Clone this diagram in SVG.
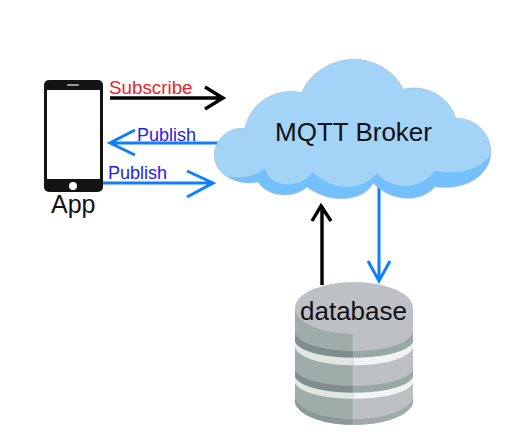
<svg xmlns="http://www.w3.org/2000/svg" width="506" height="436" viewBox="0 0 506 436">
<style>
text{font-family:"Liberation Sans",Arial,sans-serif}
.blk{fill:none;stroke:#000;stroke-width:3.4;stroke-linejoin:miter}
.blu{fill:none;stroke:#0f7ffb;stroke-width:3;stroke-linejoin:miter}
.pub{font-size:18px;fill:#2323ee}
.lbl{font-size:26px;fill:#111}
</style>
<defs>
<clipPath id="lh"><rect x="290" y="275" width="63.5" height="160"/></clipPath>
<clipPath id="rh"><rect x="353.5" y="275" width="65" height="160"/></clipPath>
<path id="body" d="M295,308 V403 C305,432 403,432 413,403 V308 Z"/>
<path id="s1" d="M295,333 C305,357 403,357 413,333 V342 C403,363 305,363 295,342 Z"/>
<path id="s2" d="M295,342 C305,363 403,363 413,342 V348 C403,371 305,371 295,348 Z"/>
<path id="s3" d="M295,370 C305,391 403,391 413,370 V377 C403,398 305,398 295,377 Z"/>
<path id="s4" d="M295,377 C305,398 403,398 413,377 V383 C403,404 305,404 295,383 Z"/>
<path id="s5" d="M295,398 C305,426 403,426 413,398 V403 C403,432 305,432 295,403 Z"/>
</defs>
<rect width="506" height="436" fill="#fff"/>
<g id="phone">
<rect x="44" y="80" width="59" height="112" rx="5" fill="#141414"/>
<rect x="47" y="90" width="53" height="89" fill="#fff"/>
<rect x="67" y="84" width="12" height="2" rx="1" fill="#9a9a9a"/>
<circle cx="73" cy="186" r="4" fill="#fff"/>
<text x="51" y="213" font-size="25" fill="#111">App</text>
</g>
<g id="connectors">
<path class="blk" d="M110,98 H222 M205,87 L223,98 L205,109"/>
<path class="blu" d="M218,143 H111 M135,130 L110,143 L135,155"/>
<path class="blu" d="M103,183 H212 M187,171 L213,183 L187,197"/>
<path class="blk" d="M322,285 V206 M312,221 L321,206 L331,221"/>
<path class="blu" d="M379,185 V280 M368,261 L379,281 L390,261"/>
</g>
<g id="broker">
<g transform="translate(205 50) scale(.3333)">
<path fill="#73c0fc" stroke="#b5b9bb" stroke-width="1.5" d="M120,235 C135,160 210,110 290,128 C320,60 390,28 445,28 C510,28 570,65 595,118 C660,100 735,140 752,205 C820,205 860,260 858,310 C855,370 790,425 690,410 C650,458 560,458 505,400 C470,460 370,460 306,411 C270,445 190,445 159,396 C110,410 28,380 28,315 C28,270 70,230 120,235 Z"/>
<path fill="#a3d3f6" d="M120,235 C135,160 210,110 290,128 C320,60 390,28 445,28 C510,28 570,65 595,118 C660,100 735,140 752,205 C820,205 860,260 858,310 C830,365 750,375 690,362 C650,418 560,425 516,369 C470,425 380,425 324,366 C290,415 195,420 180,354 C150,380 110,388 62,378 C40,360 28,335 28,315 C28,270 70,230 120,235 Z"/>
</g>
<text class="lbl" x="275" y="141">MQTT Broker</text>
</g>
<g id="database">
<g clip-path="url(#lh)">
<use href="#body" fill="#9fadaa"/>
<use href="#s1" fill="#7f8e8c"/><use href="#s2" fill="#dfe6e4"/>
<use href="#s3" fill="#7f8e8c"/><use href="#s4" fill="#dfe6e4"/>
<use href="#s5" fill="#8a9896"/>
</g>
<g clip-path="url(#rh)">
<use href="#body" fill="#bcc0c4"/>
<use href="#s1" fill="#9aa8a5"/><use href="#s2" fill="#f0f4f4"/>
<use href="#s3" fill="#9aa8a5"/><use href="#s4" fill="#f0f4f4"/>
<use href="#s5" fill="#9eaba8"/>
</g>
<ellipse cx="354" cy="308" rx="59" ry="26" fill="#bdc1c5"/>
<text class="lbl" x="300" y="320">database</text>
</g>
<text x="109" y="94" font-size="18.8" fill="#f0212b">Subscribe</text>
<text class="pub" x="137" y="141">Publish</text>
<text class="pub" x="108" y="179">Publish</text>
</svg>
